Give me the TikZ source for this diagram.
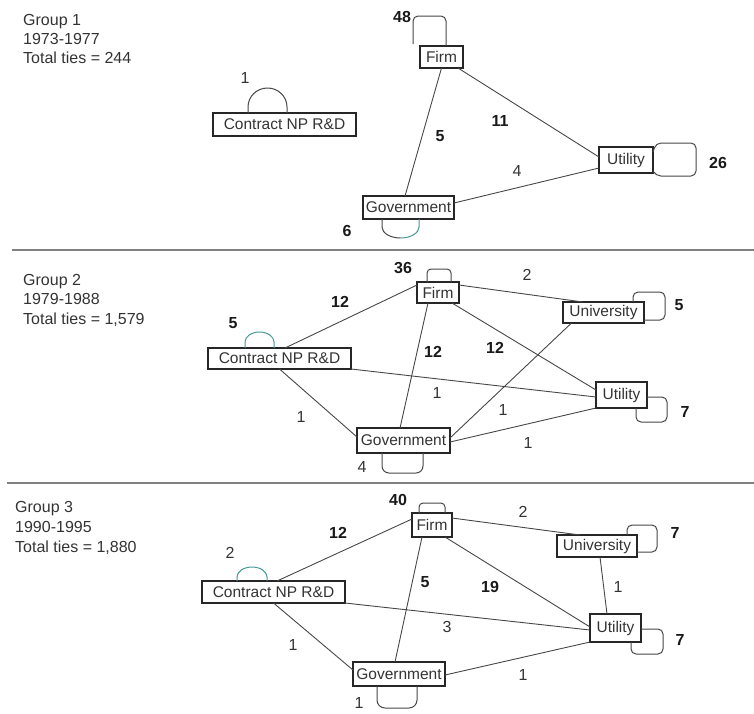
\documentclass[tikz,border=0pt]{standalone}
\usepackage{fontspec}
\setmainfont{Liberation Sans}
\definecolor{loopteal}{RGB}{72,150,150}
\begin{document}
\begin{tikzpicture}[x=1pt,y=-1pt,
  box/.style={draw=black!85, line width=1.1pt, inner sep=0pt, outer sep=0pt,
    minimum height=23pt, font=\fontsize{15.5}{18}\selectfont, text=black!80},
  tie/.style={draw=black!72, line width=0.9pt},
  sqloop/.style={draw=black!72, line width=1pt, rounded corners=5pt},
  arcloop/.style={draw=black!72, line width=1pt},
  num/.style={inner sep=0pt, font=\fontsize{16}{18}\selectfont\bfseries, text=black!90},
  lbl/.style={inner sep=0pt, font=\fontsize{16}{18}\selectfont, text=black!80},
  head/.style={anchor=base west, inner sep=0pt, font=\fontsize{16}{19}\selectfont, text=black!80},
  rule/.style={draw=black!50, line width=2pt}]
\useasboundingbox (0,0) rectangle (754,713);

% ---------------- Group 1 ----------------
\node[head] (h1a) at (23,25.5) {Group 1};
\node[head] (h1b) at (23,44.5) {1973-1977};
\node[head] (h1c) at (23,63.5) {Total ties = 244};

\node[box, minimum width=143pt] (contract1) at (284.5,124.5) {Contract NP R\&D};
\node[box, minimum width=43pt, minimum height=22pt] (firm1) at (441.5,57) {Firm};
\node[box, minimum width=54pt, minimum height=26pt] (util1) at (626,160) {Utility};
\node[box, minimum width=91pt] (gov1) at (408.5,207.5) {Government};

\draw[tie] (firm1.south) -- ([xshift=-3.5pt]gov1.north);
\draw[tie] ([xshift=-5pt]firm1.south east) -- ([yshift=3pt]util1.west);
\draw[tie] ([yshift=4.5pt]gov1.east) -- ([yshift=5pt]util1.south west);

\draw[arcloop] (contract1.north west) ++(35,0) -- ++(0,-6)
  arc[start angle=180, end angle=0, x radius=19.5pt, y radius=19pt] -- ++(0,6);
\draw[sqloop] (firm1.north west) ++(26,0) -- ++(0,-30) -- ++(-33,0) -- ++(0,28);
\draw[sqloop] (util1.north east) ++(0,5) -- ++(3,-9) -- ++(40,0) -- ++(0,33)
  -- ++(-40,0) -- ++(-3,-5);
\draw[arcloop] (gov1.south west) ++(19,0) -- ++(0,8)
  arc[start angle=180, end angle=270, x radius=18.5pt, y radius=11pt];
\draw[arcloop, draw=loopteal] (gov1.south west) ++(37.5,19)
  arc[start angle=270, end angle=360, x radius=18.5pt, y radius=11pt] -- ++(0,-8);

\node[lbl] (n1a) at (245,78) {1};
\node[num] (n1b) at (402,17) {48};
\node[num] (n1c) at (440,136) {5};
\node[num] (n1d) at (500,121) {11};
\node[lbl] (n1e) at (517,171) {4};
\node[num] (n1f) at (718,163) {26};
\node[num] (n1g) at (347,231) {6};

\draw[rule] (12,250) -- (754,250);

% ---------------- Group 2 ----------------
\node[head] (h2a) at (23,285.5) {Group 2};
\node[head] (h2b) at (23,304.5) {1979-1988};
\node[head] (h2c) at (23,324) {Total ties = 1,579};

\node[box, minimum width=143pt, minimum height=21pt] (contract2) at (279.5,358.5) {Contract NP R\&D};
\node[box, minimum width=42pt, minimum height=21pt] (firm2) at (438,292.5) {Firm};
\node[box, minimum width=81pt, minimum height=21pt] (univ2) at (603.5,312.5) {University};
\node[box, minimum width=51pt, minimum height=26pt] (util2) at (621.5,395) {Utility};
\node[box, minimum width=93pt, minimum height=25pt] (gov2) at (403.5,440.5) {Government};

\draw[tie] ([xshift=5.5pt]contract2.north) -- ([yshift=7.5pt]firm2.west);
\draw[tie] ([xshift=-10pt]firm2.south) -- ([xshift=-3.5pt]gov2.north);
\draw[tie] ([xshift=-7pt]firm2.south east) -- ([yshift=5pt]util2.west);
\draw[tie] ([yshift=7.5pt]firm2.east) -- ([xshift=20pt]univ2.north west);
\draw[tie] (contract2.south east) -- ([yshift=-2pt]util2.west);
\draw[tie] (contract2.south) -- ([yshift=3.5pt]gov2.west);
\draw[tie] ([xshift=8.5pt]univ2.south west) -- ([yshift=2.5pt]gov2.east);
\draw[tie] (util2.south west) -- ([yshift=-1.5pt]gov2.east);

\draw[arcloop, draw=loopteal] (contract2.north west) ++(37,0) -- ++(0,-6)
  arc[start angle=180, end angle=0, x radius=14.5pt, y radius=10pt] -- ++(0,6);
\draw[sqloop, rounded corners=4pt] (firm2.north west) ++(10,0) -- ++(0,-13) -- ++(24,0) -- ++(0,13);
\draw[sqloop] (univ2.north east) ++(-11,0) -- ++(0,-10) -- ++(32,0) -- ++(0,28) -- ++(-21,0);
\draw[sqloop] (util2.south east) ++(-11,0) -- ++(0,14) -- ++(31,0) -- ++(0,-25) -- ++(-20,0);
\draw[sqloop, rounded corners=7pt] (gov2.south west) ++(25,0) -- ++(0,20) -- ++(41,0) -- ++(0,-20);

\node[num] (n2a) at (403,268) {36};
\node[num] (n2b) at (340,302) {12};
\node[num] (n2c) at (233,323) {5};
\node[lbl] (n2d) at (527,275) {2};
\node[num] (n2e) at (679,305) {5};
\node[num] (n2f) at (433,352) {12};
\node[num] (n2g) at (495,348) {12};
\node[lbl] (n2h) at (437,393) {1};
\node[lbl] (n2i) at (301,417) {1};
\node[lbl] (n2j) at (503,410) {1};
\node[lbl] (n2k) at (528,443) {1};
\node[num] (n2l) at (685,412) {7};
\node[lbl] (n2m) at (362,467) {4};

\draw[rule] (7,483) -- (754,483);

% ---------------- Group 3 ----------------
\node[head] (h3a) at (15,512.5) {Group 3};
\node[head] (h3b) at (15,532.5) {1990-1995};
\node[head] (h3c) at (15,552.5) {Total ties = 1,880};

\node[box, minimum width=143pt, minimum height=22pt] (contract3) at (273.5,592) {Contract NP R\&D};
\node[box, minimum width=40pt, minimum height=24pt] (firm3) at (432,525) {Firm};
\node[box, minimum width=80pt, minimum height=22pt] (univ3) at (597,546) {University};
\node[box, minimum width=51pt, minimum height=28pt] (util3) at (615.5,628) {Utility};
\node[box, minimum width=92pt, minimum height=24pt] (gov3) at (399,674) {Government};

\draw[tie] ([xshift=3.5pt]contract3.north) -- ([yshift=6pt]firm3.west);
\draw[tie] ([xshift=-10pt]firm3.south) -- ([xshift=-4pt]gov3.north);
\draw[tie] ([xshift=-7pt]firm3.south east) -- ([yshift=1pt]util3.west);
\draw[tie] ([yshift=7pt]firm3.east) -- ([xshift=23pt]univ3.north west);
\draw[tie] ([xshift=3pt]univ3.south) -- ([xshift=-8.5pt]util3.north);
\draw[tie] (contract3.south east) -- ([yshift=-2pt]util3.west);
\draw[tie] (contract3.south) -- ([yshift=4pt]gov3.west);
\draw[tie] ([yshift=-1pt]gov3.east) -- (util3.south west);

\draw[arcloop, draw=loopteal] (contract3.north west) ++(35,0) -- ++(0,-4)
  arc[start angle=180, end angle=0, x radius=15pt, y radius=10pt] -- ++(0,4);
\draw[sqloop, rounded corners=4pt] (firm3.north west) ++(7,0) -- ++(0,-10) -- ++(26,0) -- ++(0,10);
\draw[sqloop] (univ3.north east) ++(-10,0) -- ++(0,-10) -- ++(30,0) -- ++(0,27) -- ++(-20,0);
\draw[sqloop] (util3.south east) ++(-10,0) -- ++(0,12) -- ++(32,0) -- ++(0,-25) -- ++(-22,0);
\draw[sqloop, rounded corners=8pt] (gov3.south west) ++(24,0) -- ++(0,22) -- ++(40,0) -- ++(0,-22);

\node[num] (n3a) at (398,500) {40};
\node[num] (n3b) at (338,533) {12};
\node[lbl] (n3c) at (230,553) {2};
\node[lbl] (n3d) at (523,512) {2};
\node[num] (n3e) at (675,533) {7};
\node[num] (n3f) at (425,582) {5};
\node[num] (n3g) at (490,587) {19};
\node[lbl] (n3h) at (618,587) {1};
\node[lbl] (n3i) at (447,627) {3};
\node[lbl] (n3j) at (293,645) {1};
\node[num] (n3k) at (680,640) {7};
\node[lbl] (n3l) at (523,675) {1};
\node[lbl] (n3m) at (359,703) {1};
\end{tikzpicture}
\end{document}
